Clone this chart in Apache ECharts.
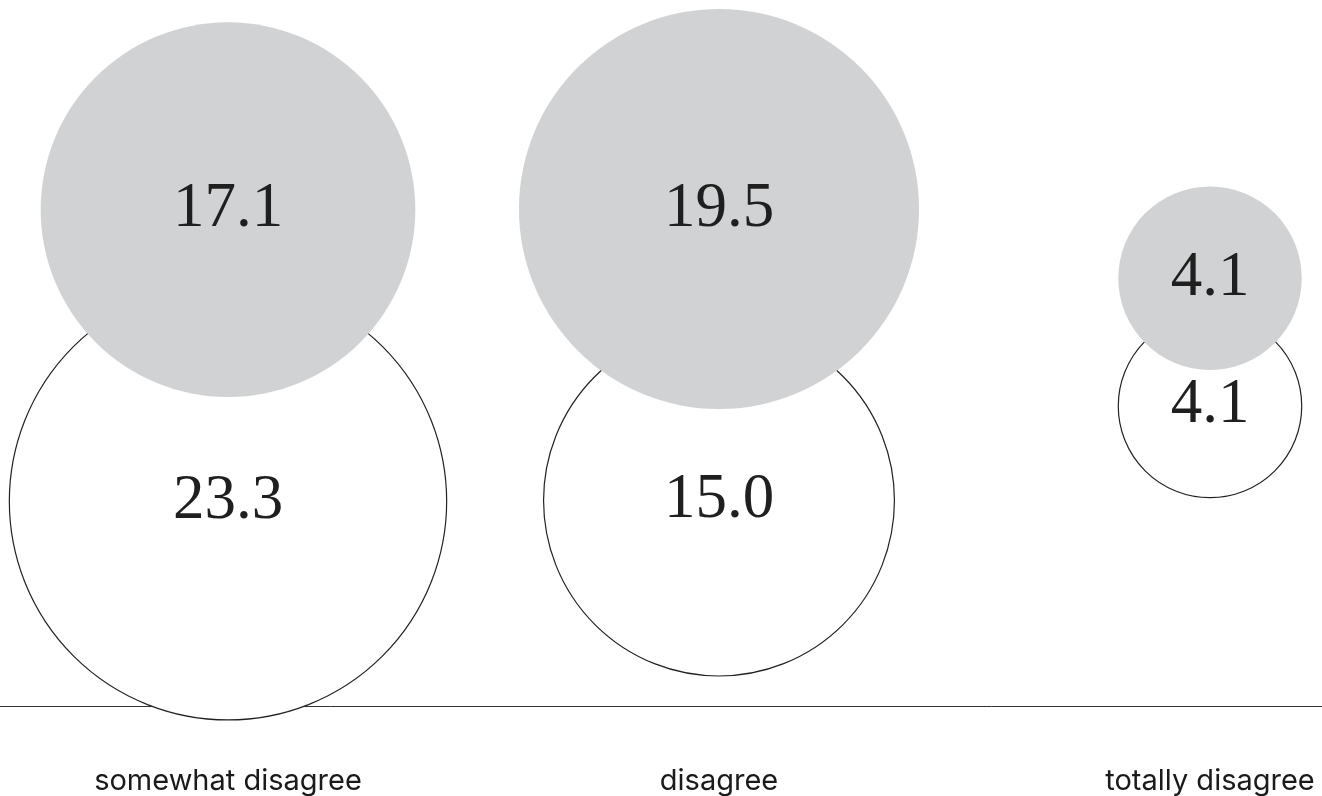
<!DOCTYPE html>
<html>
<head>
<meta charset="utf-8">
<script src="https://cdn.jsdelivr.net/npm/echarts@6/dist/echarts.min.js"></script>
<style>
  html, body { margin: 0; padding: 0; background: #ffffff; }
  #chart { width: 1322px; height: 796px; }
</style>
</head>
<body>
<div id="chart"></div>
<script>
// Answer categories along the baseline
const categories = ['somewhat disagree', 'disagree', 'totally disagree'];

// Shares (%) shown in the grey (upper) and outlined (lower) circles
const greyValues = [17.1, 19.5, 4.1];
const outlineValues = [23.3, 15.0, 4.1];

// Vertical placement of each circle's centre, on a 0–100 scale above the baseline
const greyLevels = [70.3, 70.4, 60.6];
const outlineLevels = [29.0, 29.1, 42.5];

// Circle area proportional to the value: diameter = SIZE_FACTOR * sqrt(value)
const SIZE_FACTOR = 90.6;

function toPoints(values, levels) {
  return values.map((v, i) => [i, levels[i], v]);
}

const numberLabel = {
  show: true,
  position: 'inside',
  formatter: p => p.value[2].toFixed(1),
  color: '#1f1f1f',
  fontFamily: '"Liberation Serif", "DejaVu Serif", serif',
  fontSize: 63,
  fontWeight: 'normal'
};

const chart = echarts.init(document.getElementById('chart'), null, { renderer: 'canvas' });

chart.setOption({
  animation: false,
  backgroundColor: '#ffffff',
  grid: [
    // plotting area: category centres
    { left: 228, right: 112, top: 0, bottom: 90, containLabel: false },
    // full-width baseline
    { left: 0, right: 0, top: 0, bottom: 90, containLabel: false }
  ],
  xAxis: [
    {
      gridIndex: 0,
      type: 'category',
      data: categories,
      boundaryGap: false,
      axisLine: { show: false },
      axisTick: { show: false },
      splitLine: { show: false },
      axisLabel: {
        margin: 61,
        color: '#1a1a1a',
        fontFamily: 'Inter, "Noto Sans", sans-serif',
        fontSize: 29,
        interval: 0
      }
    },
    {
      gridIndex: 1,
      type: 'category',
      data: [''],
      axisLine: { show: true, lineStyle: { color: '#333333', width: 1 } },
      axisTick: { show: false },
      axisLabel: { show: false },
      splitLine: { show: false }
    }
  ],
  yAxis: [
    { gridIndex: 0, type: 'value', min: 0, max: 100, show: false, splitLine: { show: false } },
    { gridIndex: 1, type: 'value', min: 0, max: 100, show: false, splitLine: { show: false } }
  ],
  series: [
    {
      name: 'outlined',
      type: 'scatter',
      clip: false,
      data: toPoints(outlineValues, outlineLevels),
      symbol: 'circle',
      symbolSize: v => SIZE_FACTOR * Math.sqrt(v[2]),
      itemStyle: { color: '#ffffff', borderColor: '#222222', borderWidth: 1.2, opacity: 1 },
      label: numberLabel,
      emphasis: { disabled: true },
      z: 2
    },
    {
      name: 'grey',
      type: 'scatter',
      clip: false,
      data: toPoints(greyValues, greyLevels),
      symbol: 'circle',
      symbolSize: v => SIZE_FACTOR * Math.sqrt(v[2]),
      itemStyle: { color: '#d1d2d4', borderWidth: 0, opacity: 1 },
      label: numberLabel,
      emphasis: { disabled: true },
      z: 3
    }
  ]
});
</script>
</body>
</html>
